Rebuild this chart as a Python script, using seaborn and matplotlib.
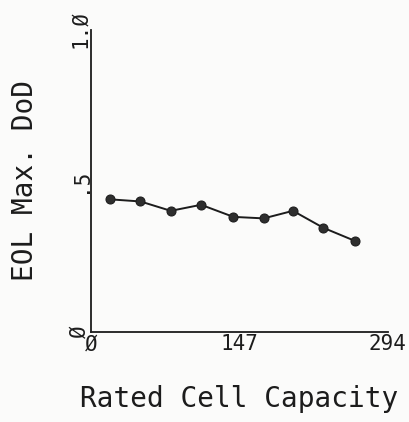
import matplotlib
matplotlib.use("Agg")
import matplotlib.pyplot as plt
import seaborn as sns
import pandas as pd
from matplotlib.ticker import FixedLocator

capacity = [19, 49, 79, 109, 141, 171, 200, 230, 261]
max_dod = [0.438, 0.431, 0.400, 0.420, 0.380, 0.375, 0.400, 0.344, 0.301]
x_ticks = [0, 147, 294]
x_tick_labels = ["Ø", "147", "294"]
x_minor = [73.5, 220.5]
y_ticks = [0, 0.5, 1.0]
y_tick_labels = ["Ø", ".5", "1.Ø"]
y_minor = [0.25, 0.75]

df = pd.DataFrame({"capacity": capacity, "dod": max_dod})

sns.set_style("white")
plt.rcParams["font.family"] = ["DejaVu Sans Mono", "DejaVu Sans"]
ink = "#1c1c1c"

fig = plt.figure(figsize=(4.10, 4.22), dpi=100, facecolor="#fbfbfa")
ax = fig.add_axes([0.222, 0.214, 0.724, 0.716])
ax.set_facecolor("#fbfbfa")

sns.lineplot(data=df, x="capacity", y="dod", ax=ax, color=ink, linewidth=1.4,
             marker="o", markersize=6.5, markeredgecolor=ink, markerfacecolor="#2e2e2e")

ax.set_xlim(0, 294)
ax.set_ylim(0, 1.0)
for s in ["top", "right"]:
    ax.spines[s].set_visible(False)
for s in ["left", "bottom"]:
    ax.spines[s].set_color(ink)
    ax.spines[s].set_linewidth(1.3)

ax.set_xticks(x_ticks)
ax.set_xticklabels(x_tick_labels, fontsize=15, color=ink)
ax.xaxis.set_minor_locator(FixedLocator(x_minor))
ax.set_yticks(y_ticks)
ax.set_yticklabels(y_tick_labels, fontsize=15, color=ink, rotation=90, va="center")
ax.yaxis.set_minor_locator(FixedLocator(y_minor))
ax.tick_params(axis="both", which="major", direction="in", length=12, width=1.3, color=ink)
ax.tick_params(axis="both", which="minor", direction="in", length=6, width=1.3, color=ink)
ax.tick_params(axis="x", which="major", pad=2)
ax.tick_params(axis="y", which="major", pad=1)

ax.set_xlabel("Rated Cell Capacity", fontsize=20, color=ink, labelpad=22)
ax.set_ylabel("EOL Max. DoD", fontsize=20, color=ink, labelpad=22)

fig.savefig("out.png", dpi=100, facecolor=fig.get_facecolor())
